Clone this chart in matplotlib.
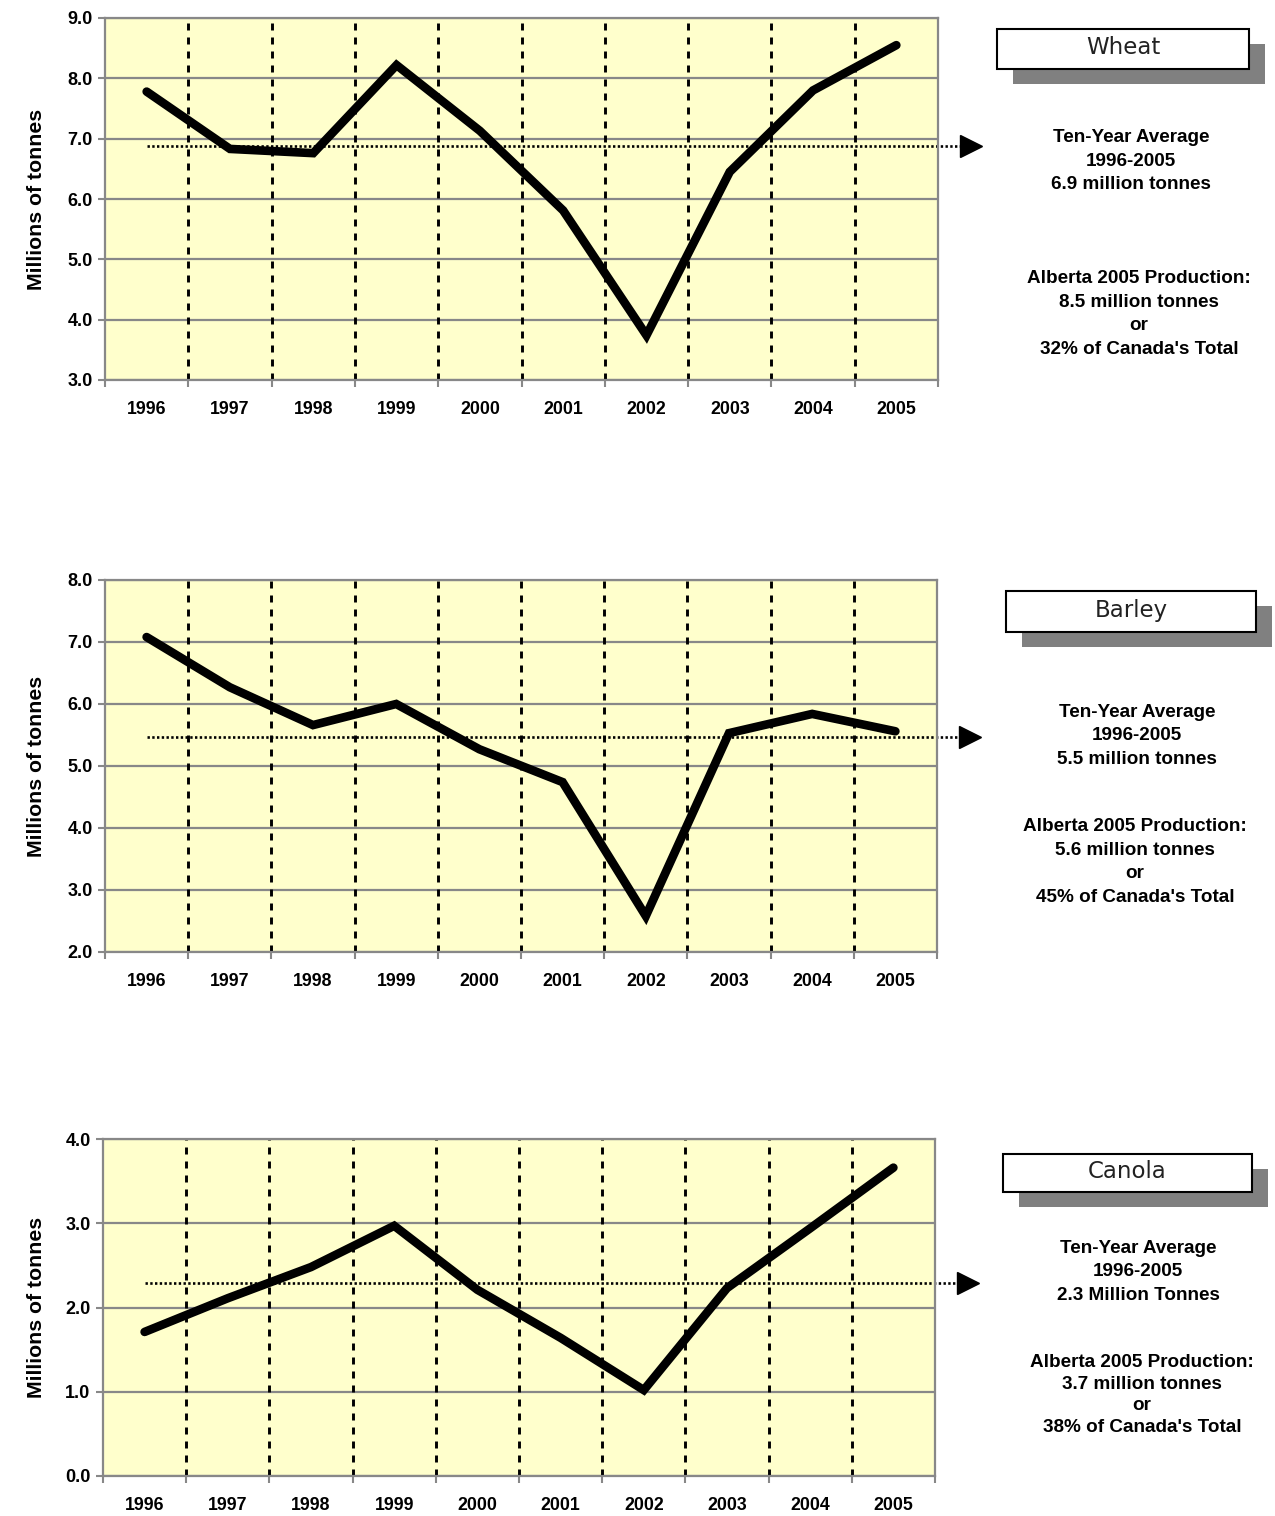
import matplotlib
matplotlib.use('Agg')
import matplotlib.pyplot as plt
from matplotlib.patches import Rectangle

plt.rcParams['font.family'] = 'Liberation Sans'
plt.rcParams['font.weight'] = 'bold'

years = ['1996', '1997', '1998', '1999', '2000', '2001', '2002', '2003', '2004', '2005']

wheat = [7.78, 6.83, 6.76, 8.22, 7.13, 5.81, 3.74, 6.45, 7.80, 8.55]
barley = [7.08, 6.27, 5.66, 6.00, 5.27, 4.74, 2.58, 5.53, 5.84, 5.56]
canola = [1.71, 2.11, 2.48, 2.97, 2.21, 1.64, 1.02, 2.23, 2.94, 3.66]

averages = [6.88, 5.47, 2.29]
crops = ['Wheat', 'Barley', 'Canola']
y_limits = [(3, 9), (2, 8), (0, 4)]

avg_texts = ['Ten-Year Average\n1996-2005\n6.9 million tonnes',
             'Ten-Year Average\n1996-2005\n5.5 million tonnes',
             'Ten-Year Average\n1996-2005\n2.3 Million Tonnes']
prod_texts = ["Alberta 2005 Production:\n8.5 million tonnes\nor\n32% of Canada's Total",
              "Alberta 2005 Production:\n5.6 million tonnes\nor\n45% of Canada's Total",
              "Alberta 2005 Production:\n3.7 million tonnes\nor\n38% of Canada's Total"]

W, H = 1275, 1516
fig = plt.figure(figsize=(W / 100, H / 100), dpi=100)

# pixel layout: axes (left, right, top, bottom), title box, shadow, text centres
axes_px = [(105, 938, 18, 380), (105, 937, 580, 952), (103, 935, 1139, 1476)]
box_px = [(997, 1249, 29, 69), (1006, 1256, 591, 632), (1003, 1252, 1154, 1192)]
shadow_off = (16, 15)
avg_pos = [(1131, 161, 1.5), (1137, 736, 1.5), (1138, 1272, 1.47)]
prod_pos = [(1139, 314, 1.5), (1135, 862, 1.5), (1142, 1395, 1.36)]

grey = '#888888'

for k, values in enumerate([wheat, barley, canola]):
    l, r, t, b = axes_px[k]
    ax = fig.add_axes([l / W, 1 - b / H, (r - l) / W, (b - t) / H])
    ax.set_facecolor('#FFFFCC')
    x = range(len(years))
    ax.set_xlim(-0.5, len(years) - 0.5)
    lo, hi = y_limits[k]
    ax.set_ylim(lo, hi)
    ax.set_yticks(range(lo, hi + 1))
    ax.set_yticklabels([f'{v:.1f}' for v in range(lo, hi + 1)], fontsize=13, fontweight='bold')

    ax.set_xticks(list(x))
    ax.set_xticklabels(years, fontsize=12.8, fontweight='bold')
    ax.set_xticks([i - 0.5 for i in range(len(years) + 1)], minor=True)
    ax.tick_params(axis='x', which='major', length=0, pad=15)
    ax.tick_params(axis='x', which='minor', length=5, color=grey, width=1.5)
    ax.tick_params(axis='y', length=5, color=grey, width=1.5, pad=4)

    ax.grid(axis='y', color=grey, lw=1.6)
    ax.set_axisbelow(True)
    for i in range(len(years) - 1):
        ax.axvline(i + 0.5, color='black', lw=2.1, ls=(0, (2.4, 2.4)), zorder=1.5)

    for s in ax.spines.values():
        s.set_color(grey)
        s.set_linewidth(1.6)

    ax.plot(x, values, color='black', lw=6.2, solid_capstyle='round', solid_joinstyle='miter', zorder=3)

    # ten-year average: dotted line running out to an arrow head
    tr = ax.get_yaxis_transform()
    ax.plot([0.05, 1.027], [averages[k], averages[k]], transform=tr, color='black', lw=1.9,
            ls=(0, (0.9, 0.9)), clip_on=False, zorder=2)
    ax.plot([1.040], [averages[k]], transform=tr, marker='>', ms=16, color='black',
            clip_on=False, zorder=3)

    ax.set_ylabel('Millions of tonnes', fontsize=15.3, fontweight='bold', va='center')
    ax.yaxis.set_label_coords((37 - l) / (r - l), 0.5)

    # title box with shadow
    bl, br, bt, bb = box_px[k]
    fig.patches.append(Rectangle(((bl + shadow_off[0]) / W, 1 - (bb + shadow_off[1]) / H),
                                 (br - bl) / W, (bb - bt) / H, transform=fig.transFigure,
                                 facecolor='#808080', edgecolor='none', zorder=1))
    fig.patches.append(Rectangle((bl / W, 1 - bb / H), (br - bl) / W, (bb - bt) / H,
                                 transform=fig.transFigure, facecolor='white',
                                 edgecolor='black', lw=1.5, zorder=2))
    fig.text((bl + br) / 2 / W, 1 - ((bt + bb) / 2 - 1) / H, crops[k], fontsize=16.5,
             fontweight='normal', family='DejaVu Sans', color='#222222', ha='center', va='center', zorder=3)

    cx, cy, ls_ = avg_pos[k]
    fig.text(cx / W, 1 - cy / H, avg_texts[k], fontsize=13.6, ha='center', va='center',
             linespacing=ls_, fontweight='bold')
    cx, cy, ls_ = prod_pos[k]
    fig.text(cx / W, 1 - cy / H, prod_texts[k], fontsize=13.6, ha='center', va='center',
             linespacing=ls_, fontweight='bold')

fig.savefig('out.png', dpi=100)
